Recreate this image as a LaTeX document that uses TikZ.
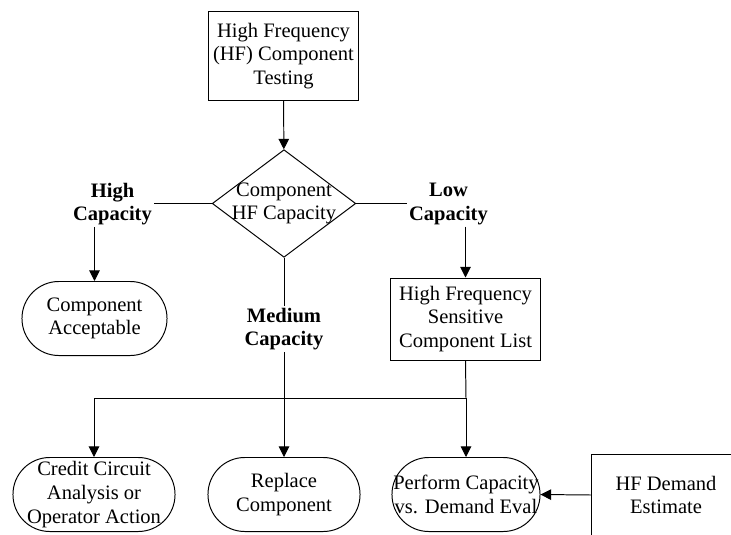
\documentclass[tikz,border=0pt]{standalone}
\usepackage{fontspec}
\setmainfont{Liberation Serif}
\usetikzlibrary{shapes.geometric,arrows.meta}

\begin{document}
\begin{tikzpicture}[x=0.025cm, y=-0.025cm, line width=0.7pt,
    font=\fontsize{14.6}{16.8}\selectfont, >={Triangle[width=7.5pt,length=7.5pt]}]
  \useasboundingbox (0, 0) rectangle (731, 534);  % Rahmen wie Vorlage.
  \tikzstyle{box}=[rectangle, draw, align=center, inner sep=0pt, minimum width=3.725cm]
  \tikzstyle{term}=[rectangle, rounded corners=0.92cm, draw, align=center, inner sep=0pt, minimum height=1.85cm]
  \tikzstyle{choice}=[diamond, draw, align=center, inner sep=-2.5pt, shape aspect=1.333]
  \tikzstyle{capname}=[align=center, inner sep=1pt, font=\fontsize{14.6}{16.8}\selectfont\bfseries]

  \node[box, minimum height=2.2cm]  (test)    at (283.5, 56)  {High Frequency\\(HF) Component\\Testing};
  \node[choice]                     (hfcap)   at (284, 203.5) {Component\\HF Capacity};
  \node[capname]                    (high)    at (112.5, 204) {High\\Capacity};
  \node[capname]                    (low)     at (448.5, 204) {Low\\Capacity};
  \node[capname]                    (medium)  at (284, 329)   {Medium\\Capacity};
  \node[term, minimum width=3.625cm] (accept) at (94.5, 318.5) {Component\\Acceptable};
  \node[box, minimum height=2.05cm] (list)    at (465.5, 319) {High Frequency\\Sensitive\\Component List};
  \coordinate                       (split)   at (466, 398);
  \node[term, minimum width=4.05cm] (credit)  at (94, 494.5)  {Credit Circuit\\Analysis or\\Operator Action};
  \node[term, minimum width=3.8cm]  (replace) at (284, 494.5) {Replace\\Component};
  \node[term, minimum width=3.7cm]  (perform) at (466, 494.5) {Perform Capacity\\vs. Demand Eval};
  \node[box, minimum height=2.05cm] (demand)  at (666, 495)   {HF Demand\\Estimate};

  \draw[->] (test) -- (hfcap);
  \draw (hfcap.west) -- (high.east |- hfcap.west);
  \draw (hfcap.east) -- (low.west |- hfcap.east);
  \draw[->] (accept.north |- high.south) -- (accept.north);
  \draw[->] (list.north |- low.south) -- (list.north);
  \draw (hfcap.south) -- (medium.north);
  \draw[->] (medium.south) -- (replace.north);
  \draw (list.south) -- (split);
  \draw[->] (split) -- (perform.north);
  \draw[->] (split) -| (credit.north);
  \draw[->] (demand.west) -- (perform.east);
\end{tikzpicture}
\end{document}
